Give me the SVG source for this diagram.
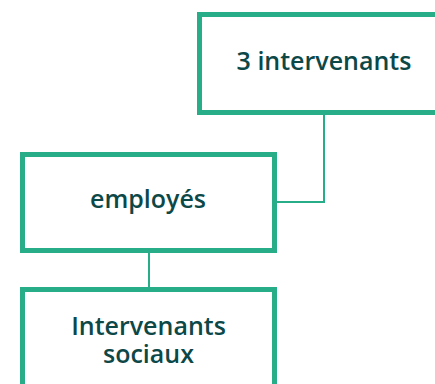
<svg xmlns="http://www.w3.org/2000/svg" width="435" height="384" viewBox="0 0 435 384">
<style>
.box{fill:#ffffff;stroke:#27ae88;stroke-width:5}
.conn{fill:none;stroke:#27ae88;stroke-width:2}
.lbl{font-family:"Open Sans","Noto Sans",sans-serif;font-weight:600;font-size:25px;fill:#0d4848;text-anchor:middle}
</style>
<rect width="435" height="384" fill="#ffffff"/>
<g id="connectors">
<path class="conn" d="M274.5 202 H324 V112.5"/>
<path class="conn" d="M149 250.5 V289.5"/>
</g>
<g id="node-intervenants">
<rect class="box" x="199.5" y="14.5" width="250" height="98"/>
<text class="lbl" x="324" y="70">3 intervenants</text>
</g>
<g id="node-employes">
<rect class="box" x="22.5" y="154.5" width="252" height="96"/>
<text class="lbl" x="148" y="208">employés</text>
</g>
<g id="node-sociaux">
<rect class="box" x="22.5" y="289.5" width="252" height="120"/>
<text class="lbl" x="148.5" y="335">Intervenants</text>
<text class="lbl" x="148.5" y="363">sociaux</text>
</g>
</svg>
